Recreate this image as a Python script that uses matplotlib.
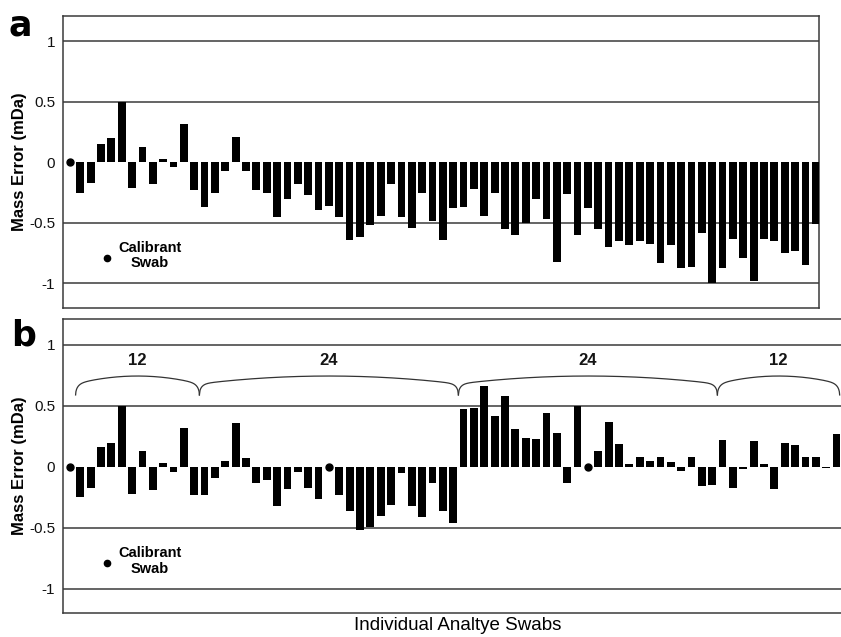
import numpy as np
import matplotlib
matplotlib.use("Agg")
import matplotlib.pyplot as plt

# ---------------- data ----------------
values_a = [-0.25, -0.17, 0.15, 0.20, 0.50, -0.21, 0.13, -0.18, 0.03, -0.04, 0.32, -0.23,
            -0.37, -0.25, -0.07, 0.21, -0.07, -0.23, -0.25, -0.45, -0.30, -0.18, -0.27, -0.39,
            -0.36, -0.45, -0.64, -0.62, -0.52, -0.44, -0.18, -0.45, -0.54, -0.25, -0.48, -0.64,
            -0.38, -0.37, -0.22, -0.44, -0.25, -0.55, -0.60, -0.50, -0.30, -0.47, -0.82, -0.26,
            -0.60, -0.38, -0.55, -0.70, -0.65, -0.68, -0.65, -0.67, -0.83, -0.68, -0.87, -0.86,
            -0.58, -1.00, -0.87, -0.63, -0.79, -0.98, -0.63, -0.65, -0.75, -0.73, -0.85, -0.51]
calib_a = [0]

values_b = [-0.25, -0.17, 0.16, 0.20, 0.50, -0.22, 0.13, -0.19, 0.03, -0.04, 0.32, -0.23,
            -0.23, -0.09, 0.05, 0.36, 0.07, -0.13, -0.11, -0.32, -0.18, -0.04, -0.17, -0.26,
            -0.23, -0.36, -0.52, -0.49, -0.40, -0.31, -0.05, -0.32, -0.41, -0.13, -0.36, -0.46,
            0.475, 0.48, 0.66, 0.42, 0.58, 0.31, 0.24, 0.23, 0.445, 0.28, -0.13, 0.50,
            0.13, 0.37, 0.19, 0.02, 0.08, 0.05, 0.08, 0.04, -0.03, 0.085, -0.16, -0.15,
            0.22, -0.17, -0.02, 0.21, 0.02, -0.18, 0.20, 0.18, 0.08, 0.08, -0.01, 0.27]
calib_b = [0, 25, 50]

group_sizes = [12, 24, 24, 12]
group_labels = ["12", "24", "24", "12"]

ytick_values = [-1, -0.5, 0, 0.5, 1]
ytick_labels = ["-1", "-0.5", "0", "0.5", "1"]

ylabel = "Mass Error (mDa)"
xlabel = "Individual Analtye Swabs"
legend_text = "Calibrant\nSwab"

# ---------------- figure ----------------
W, H = 841, 637
fig = plt.figure(figsize=(W / 100, H / 100), dpi=100)
plt.rcParams['font.family'] = ['Liberation Sans', 'DejaVu Sans']
narrow = ['Liberation Sans Narrow', 'Liberation Sans', 'DejaVu Sans']

def px_rect(l, t, r, b):
    return [l / W, 1 - b / H, (r - l) / W, (b - t) / H]

unit = 10.36  # px per bar slot
x_left = -0.695
ax_a = fig.add_axes(px_rect(62.7, 16, 819.3, 307.7))
ax_b = fig.add_axes(px_rect(62.7, 319.3, 62.7 + (75.2 - x_left) * unit, 613.3))

grid_color = "#3a3a3a"

def draw_panel(ax, values, calib, xmax):
    n = len(values) + len(calib)
    positions = [p for p in range(n) if p not in calib]
    for g in [-1, -0.5, 0.5, 1]:
        ax.axhline(g, color=grid_color, lw=1.1, zorder=1)
    ax.bar(positions, values, width=0.75, color="black", zorder=3)
    ax.plot(calib, [0] * len(calib), "o", color="black", ms=5, zorder=4)
    ax.set_xlim(x_left, xmax)
    ax.set_ylim(-1.2, 1.21)
    ax.set_xticks([])
    ax.set_yticks(ytick_values)
    ax.set_yticklabels(ytick_labels, family=narrow)
    ax.tick_params(axis="y", length=0, pad=5.5, labelsize=11, labelcolor="#111111")
    for s in ax.spines.values():
        s.set_color(grid_color)
        s.set_linewidth(1.1)
    # calibrant legend
    ax.plot([3.55], [-0.79], "o", color="black", ms=4.5, zorder=4)
    ax.text(7.7, -0.77, legend_text, ha="center", va="center", fontsize=10.5,
            fontweight="bold", linespacing=1.15)

draw_panel(ax_a, values_a, calib_a, 72.34)
draw_panel(ax_b, values_b, calib_b, 75.2)

# braces for panel b (one per group, spanning its bars)
edges = [0.55, 12.5, 37.5, 62.5, 74.3]
for i, lab in enumerate(group_labels):
    x0, x1 = edges[i], edges[i + 1]
    xs = np.linspace(x0, x1, 400)
    u = 2 * (xs - x0) / (x1 - x0) - 1
    half_px = (x1 - x0) * unit / 2
    N = 2.3 / (8.0 / half_px)
    ys = 0.59 + 0.09 * np.sqrt(np.clip(1 - np.abs(u) ** N, 0, 1)) + 0.065 * (1 - u ** 2)
    ax_b.plot(xs, ys, color="#333333", lw=0.9, zorder=2)
    ax_b.text((x0 + x1) / 2, 0.875, lab, ha="center", va="center", fontsize=12,
              fontweight="bold", color="#151515")

# y labels
for cy in [162, 466]:
    fig.text(20 / W, 1 - cy / H, ylabel, rotation=90, ha="center", va="center",
             fontsize=12, fontweight="bold")

# panel letters
fig.text(9 / W, 1 - 35 / H, "a", fontsize=25, fontweight="heavy", ha="left",
         va="baseline", family=['DejaVu Sans'])
fig.text(11 / W, 1 - 345 / H, "b", fontsize=25, fontweight="heavy", ha="left",
         va="baseline", family=['DejaVu Sans'])

# x label
fig.text(458 / W, 1 - 626 / H, xlabel, ha="center", va="center", fontsize=13.5)

fig.savefig("out.png", dpi=100)
